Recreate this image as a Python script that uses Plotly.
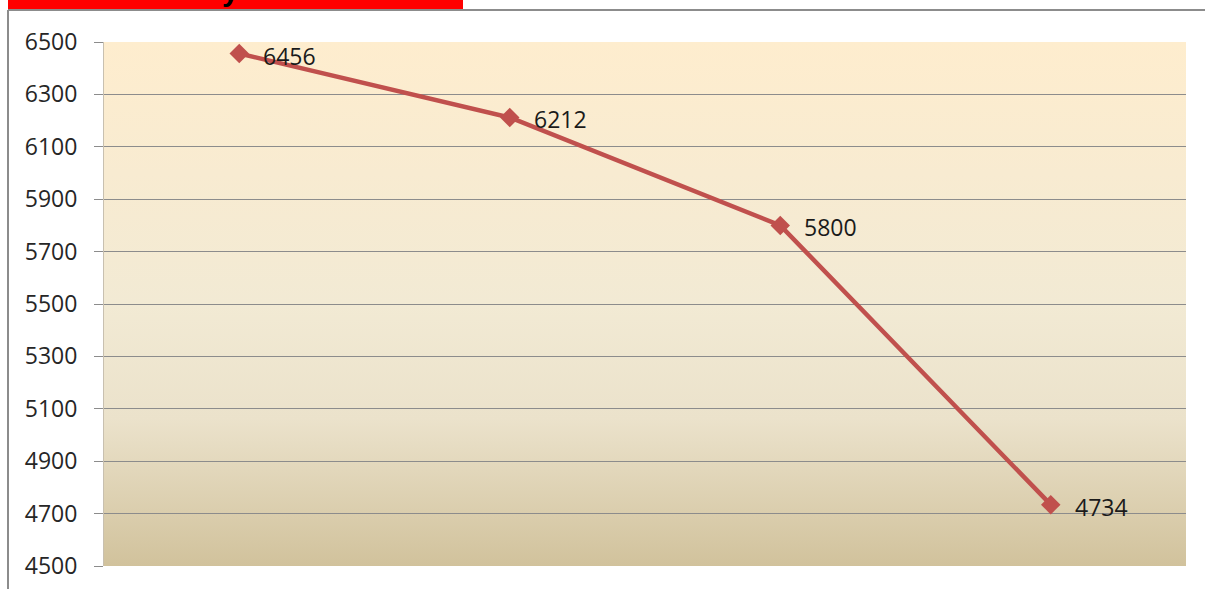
import base64
import plotly.graph_objects as go

# Data
categories = ["P1", "P2", "P3", "P4"]
values = [6456, 6212, 5800, 4734]
y_ticks = [4500, 4700, 4900, 5100, 5300, 5500, 5700, 5900, 6100, 6300, 6500]

W, H = 1205, 589
L, R, T, B = 104, 19, 42, 23
pw, ph = W - L - R, H - T - B

def px_x(p):
    return (p - L) / pw

def px_y(p):
    return 1 - (p - T) / ph

svg = """<svg xmlns='http://www.w3.org/2000/svg' width='100' height='100' preserveAspectRatio='none'>
<defs><linearGradient id='g' x1='0' y1='0' x2='0' y2='1'>
<stop offset='0' stop-color='#FEEDCE'/>
<stop offset='0.25' stop-color='#F8EBD1'/>
<stop offset='0.5' stop-color='#F2EAD4'/>
<stop offset='0.72' stop-color='#EBE2CB'/>
<stop offset='1' stop-color='#D1C29C'/>
</linearGradient></defs>
<rect width='100' height='100' fill='url(#g)'/></svg>"""
src = "data:image/svg+xml;base64," + base64.b64encode(svg.encode()).decode()

fig = go.Figure()
fig.add_trace(go.Scatter(
    x=categories, y=values, mode="lines+markers",
    line=dict(color="#C0504D", width=4.5),
    marker=dict(symbol="diamond", size=15, color="#C0504D"),
    hoverinfo="skip",
))

annotations = []
for c, v in zip(categories, values):
    annotations.append(dict(
        x=c, y=v, xref="x", yref="y", text=str(v), showarrow=False,
        xanchor="left", yanchor="middle", xshift=22, yshift=-2,
        font=dict(family="Open Sans", size=23, color="#1a1a1a"),
    ))
# cropped title fragment
annotations.append(dict(
    x=px_x(230), y=px_y(9), xref="paper", yref="paper", text="<b>y</b>",
    showarrow=False, xanchor="center", yanchor="bottom",
    font=dict(family="Liberation Sans", size=30, color="#000000"),
))

shapes = [
    dict(type="rect", xref="paper", yref="paper",
         x0=px_x(8), x1=px_x(463), y0=px_y(9.5), y1=px_y(-5),
         fillcolor="#FF0000", line=dict(width=0), layer="below"),
    dict(type="line", xref="paper", yref="paper",
         x0=px_x(8), x1=px_x(1210), y0=px_y(10), y1=px_y(10),
         line=dict(color="#8C8C8C", width=2)),
    dict(type="line", xref="paper", yref="paper",
         x0=px_x(8), x1=px_x(8), y0=px_y(10), y1=px_y(595),
         line=dict(color="#8C8C8C", width=2)),
]

fig.update_layout(
    width=W, height=H,
    margin=dict(l=L, r=R, t=T, b=B, autoexpand=False),
    paper_bgcolor="white",
    plot_bgcolor="rgba(0,0,0,0)",
    showlegend=False,
    annotations=annotations,
    shapes=shapes,
    images=[dict(source=src, xref="paper", yref="paper", x=0, y=1,
                 sizex=1, sizey=1, sizing="stretch", xanchor="left",
                 yanchor="top", layer="below")],
    xaxis=dict(type="category", range=[-0.5, 3.5], showticklabels=False,
               showgrid=False, zeroline=False, showline=False, ticks="",
               automargin=False),
    yaxis=dict(range=[4500, 6500], tickvals=y_ticks,
               ticktext=[str(t) for t in y_ticks],
               showgrid=True, gridcolor="#8C8C8C", gridwidth=1,
               zeroline=False, showline=True, linecolor="#C8C0B0", linewidth=1,
               ticks="outside", ticklen=9, tickcolor="#8C8C8C",
               ticklabelstandoff=12, automargin=False,
               tickfont=dict(family="Open Sans", size=23, color="#262626")),
)

fig.write_html("out.html", config={"displayModeBar": False},
               post_script="document.body.style.margin='0';document.body.style.overflow='hidden';")
